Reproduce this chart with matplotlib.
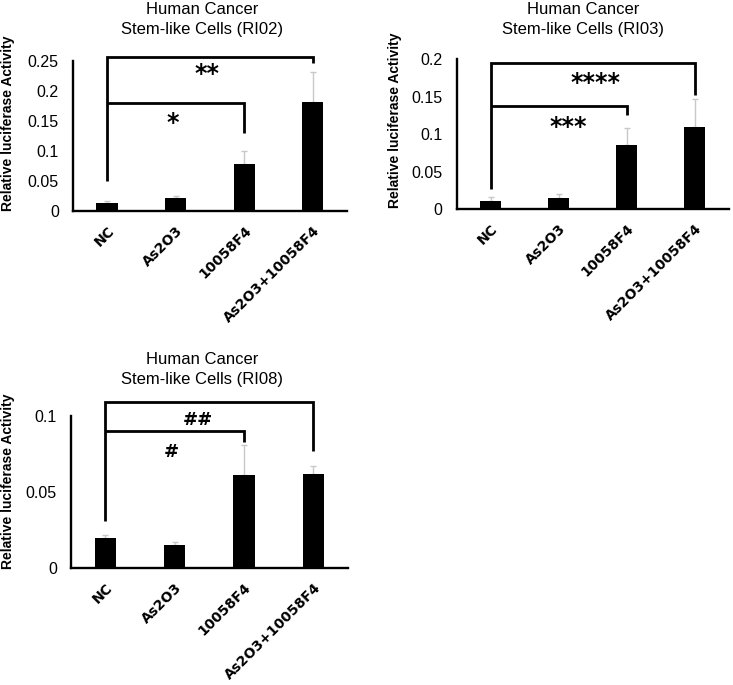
import matplotlib
matplotlib.use("Agg")
import matplotlib.pyplot as plt

categories = ["NC", "As2O3", "10058F4", "As2O3+10058F4"]

titles = ["Human Cancer\nStem-like Cells (RI02)",
          "Human Cancer\nStem-like Cells (RI03)",
          "Human Cancer\nStem-like Cells (RI08)"]

ri02_values = [0.013, 0.021, 0.078, 0.181]
ri02_errors = [0.004, 0.004, 0.022, 0.051]
ri03_values = [0.011, 0.015, 0.086, 0.110]
ri03_errors = [0.005, 0.005, 0.023, 0.037]
ri08_values = [0.020, 0.015, 0.061, 0.062]
ri08_errors = [0.002, 0.002, 0.020, 0.005]

ri02_ticks = [0, 0.05, 0.1, 0.15, 0.2, 0.25]
ri02_ticklabels = ["0", "0.05", "0.1", "0.15", "0.2", "0.25"]
ri03_ticks = [0, 0.05, 0.1, 0.15, 0.2]
ri03_ticklabels = ["0", "0.05", "0.1", "0.15", "0.2"]
ri08_ticks = [0, 0.05, 0.1]
ri08_ticklabels = ["0", "0.05", "0.1"]

# brackets: (left leg bottom, inner top, inner right bottom, outer top, outer right bottom)
ri02_brackets = [0.050, 0.1795, 0.1305, 0.257, 0.246]
ri03_brackets = [0.027, 0.1377, 0.126, 0.1955, 0.153]
ri08_brackets = [0.031, 0.090, 0.083, 0.1087, 0.0771]
ri02_marks = ["*", "**"]
ri03_marks = ["***", "****"]
ri08_marks = ["#", "##"]
ri02_mark_y = [0.155, 0.238]
ri03_mark_y = [0.1164, 0.176]
ri08_mark_y = [0.0775, 0.0982]
ri02_mark_x = [0.96, 1.46]
ri03_mark_x = [1.14, 1.54]
ri08_mark_x = [0.955, 1.337]

W, H = 733, 685
fig = plt.figure(figsize=(W / 100, H / 100), dpi=100)

def px_axes(x0, y_top, x1, y_bot):
    return fig.add_axes([x0 / W, 1 - y_bot / H, (x1 - x0) / W, (y_bot - y_top) / H])

panels = [
    dict(rect=(72.7, 61, 347, 211), vals=ri02_values, errs=ri02_errors, ymax=0.25,
         ticks=ri02_ticks, tl=ri02_ticklabels, br=ri02_brackets, marks=ri02_marks,
         my=ri02_mark_y, mx=ri02_mark_x, title=titles[0], tx=202, ty=2.5,
         ylx=8.5, yly=123),
    dict(rect=(456.5, 59.3, 729, 209.3), vals=ri03_values, errs=ri03_errors, ymax=0.2,
         ticks=ri03_ticks, tl=ri03_ticklabels, br=ri03_brackets, marks=ri03_marks,
         my=ri03_mark_y, mx=ri03_mark_x, title=titles[1], tx=583, ty=2.5,
         ylx=395, yly=120),
    dict(rect=(70.7, 415.7, 348, 568.3), vals=ri08_values, errs=ri08_errors, ymax=0.1,
         ticks=ri08_ticks, tl=ri08_ticklabels, br=ri08_brackets, marks=ri08_marks,
         my=ri08_mark_y, mx=ri08_mark_x, title=titles[2], tx=202, ty=352.5,
         ylx=8.5, yly=481),
]

x = list(range(len(categories)))
for p in panels:
    ax = px_axes(*p["rect"])
    ax.bar(x, p["vals"], width=0.31, color="black", zorder=2)
    ax.errorbar(x, p["vals"], yerr=[[0] * 4, p["errs"]], fmt="none",
                ecolor="#c8c8c8", elinewidth=1.0, capsize=2.5, capthick=1.0, zorder=1)
    ax.set_xlim(-0.5, 3.5)
    ax.set_ylim(0, p["ymax"])
    ax.set_yticks(p["ticks"])
    ax.set_yticklabels(p["tl"], family="Liberation Sans", fontsize=11.5)
    ax.set_xticks(x)
    ax.set_xticklabels(categories, rotation=45, ha="right", va="top",
                       rotation_mode="anchor", family="DejaVu Sans",
                       fontweight="bold", fontsize=10)
    ax.tick_params(axis="both", length=0)
    ax.tick_params(axis="y", pad=10)
    ax.tick_params(axis="x", pad=9)
    for s in ["top", "right"]:
        ax.spines[s].set_visible(False)
    for s in ["left", "bottom"]:
        ax.spines[s].set_linewidth(1.7)
    b = p["br"]
    kw = dict(color="black", lw=2.0, clip_on=False, solid_capstyle="butt",
              solid_joinstyle="miter", zorder=3)
    ax.plot([0, 0, 3, 3], [b[0], b[3], b[3], b[4]], **kw)
    ax.plot([0, 2, 2], [b[1], b[1], b[2]], **kw)
    for t, yy, xx in zip(p["marks"], p["my"], p["mx"]):
        if "*" in t:
            fs, off = 17, -9.0
        else:
            fs, off = 13, -4.7
        ax.annotate(t, (xx, yy), xytext=(0, off), textcoords="offset points",
                    ha="center", va="baseline", family="DejaVu Sans",
                    fontweight="bold", fontsize=fs, annotation_clip=False)
    fig.text(p["tx"] / W, 1 - p["ty"] / H, p["title"], ha="center", va="top",
             family="Liberation Sans", fontsize=12, linespacing=1.35)
    fig.text(p["ylx"] / W, 1 - p["yly"] / H, "Relative luciferase Activity",
             rotation=90, ha="center", va="center", family="Liberation Sans",
             fontweight="bold", fontsize=10)

fig.savefig("out.png", dpi=100)
